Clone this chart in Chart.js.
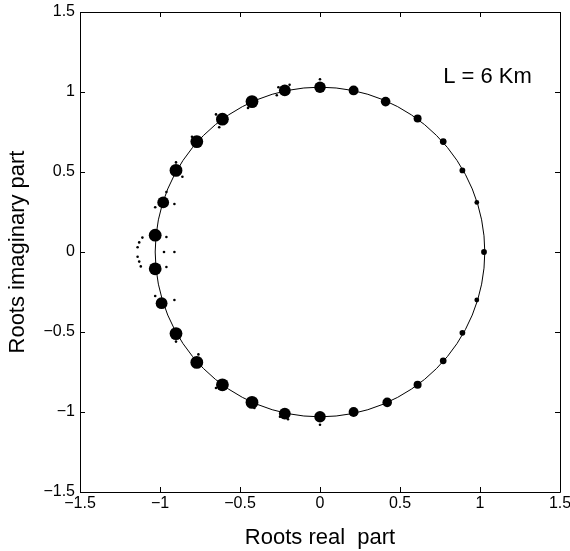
<!DOCTYPE html>
<html>
<head>
<meta charset="utf-8">
<script src="https://cdn.jsdelivr.net/npm/chart.js@4.4.0/dist/chart.umd.min.js"></script>
<style>
  html, body { margin: 0; padding: 0; background: #fff; }
  #wrap { width: 570px; height: 551px; }
</style>
</head>
<body>
<div id="wrap"><canvas id="rootsChart"></canvas></div>
<script>
// centres of the root clusters (real / imaginary part) and how wide each cloud is
const clusterRe = [1.025, 0.98, 0.89, 0.77, 0.61, 0.41, 0.21, 0.0, -0.22, -0.425, -0.61, -0.77, -0.9, -0.98, -1.03,
                   -1.03, -0.99, -0.9, -0.77, -0.61, -0.425, -0.22, 0.0, 0.21, 0.42, 0.61, 0.77, 0.89, 0.98];
const clusterIm = [0.0, 0.31, 0.51, 0.69, 0.835, 0.94, 1.01, 1.03, 1.01, 0.94, 0.83, 0.69, 0.51, 0.31, 0.105,
                   -0.105, -0.32, -0.51, -0.69, -0.83, -0.94, -1.01, -1.03, -1.0, -0.94, -0.83, -0.68, -0.505, -0.30];
const clusterSpread = [0.018, 0.015, 0.018, 0.021, 0.025, 0.03, 0.031, 0.036, 0.037, 0.04, 0.04, 0.04, 0.04, 0.037, 0.04,
                       0.04, 0.037, 0.04, 0.04, 0.04, 0.04, 0.037, 0.036, 0.031, 0.03, 0.025, 0.021, 0.018, 0.015];

// single roots lying outside the clouds
const strayRe = [-1.11, -1.13, -1.14, -1.14, -1.13, -1.12, -0.975, -0.91, -0.96, -0.96,
                 -0.91, -0.91, -1.03, -1.03, -0.96, -0.86, -0.9, -0.9, -0.8, -0.76,
                 -0.65, -0.65, -0.63, -0.45, -0.41, -0.27, -0.26, -0.25, -0.2, -0.19, 0.0, 0.0];
const strayIm = [0.09, 0.06, 0.03, -0.03, -0.06, -0.09, 0.0, 0.0, 0.094, -0.094,
                 0.3, -0.3, 0.28, -0.275, 0.375, 0.47, 0.56, -0.56, 0.72, -0.64,
                 0.86, -0.85, 0.78, 0.9, -0.975, 0.98, 1.03, -1.03, -1.045, 1.045, 1.08, -1.08];

const tickValues = [-1.5, -1, -0.5, 0, 0.5, 1, 1.5];
const circleRadius = 1.03;
const lengthLabel = 'L = 6 Km';

Chart.defaults.font.family = '"Liberation Sans", Arial, Helvetica, sans-serif';
Chart.defaults.color = '#000';

const fmt = v => String(v).replace('-', '\u2212');

const framePlugin = {
    id: 'frame',
    beforeDatasetsDraw(chart) {
        // reference circle through the roots
        const { ctx, scales: { x, y } } = chart;
        const cx = x.getPixelForValue(0);
        const cy = y.getPixelForValue(0);
        const rx = x.getPixelForValue(circleRadius) - cx;
        const ry = cy - y.getPixelForValue(circleRadius);
        ctx.save();
        ctx.beginPath();
        ctx.ellipse(cx, cy, rx, ry, 0, 0, Math.PI * 2);
        ctx.strokeStyle = '#000';
        ctx.lineWidth = 1;
        ctx.stroke();
        ctx.restore();
    },
    afterDraw(chart) {
        const { ctx, chartArea: a, scales: { x, y } } = chart;
        const L = 5;
        ctx.save();
        ctx.strokeStyle = '#000';
        ctx.lineWidth = 1;
        ctx.beginPath();
        ctx.rect(Math.round(a.left) + 0.5, Math.round(a.top) + 0.5,
                 Math.round(a.right - a.left), Math.round(a.bottom - a.top));
        tickValues.forEach(v => {
            const px = Math.round(x.getPixelForValue(v)) + 0.5;
            ctx.moveTo(px, a.bottom); ctx.lineTo(px, a.bottom - L);
            ctx.moveTo(px, a.top); ctx.lineTo(px, a.top + L);
            const py = Math.round(y.getPixelForValue(v)) + 0.5;
            ctx.moveTo(a.left, py); ctx.lineTo(a.left + L, py);
            ctx.moveTo(a.right, py); ctx.lineTo(a.right - L, py);
        });
        ctx.stroke();

        ctx.fillStyle = '#000';
        ctx.font = '22px "Liberation Sans", Arial, sans-serif';
        ctx.textAlign = 'left';
        ctx.textBaseline = 'alphabetic';
        ctx.fillText(lengthLabel, x.getPixelForValue(0.77), y.getPixelForValue(1.056));
        ctx.restore();
    }
};

function spreadToPx(c, spread) {
    const x = c.chart.scales.x;
    if (!x) return 4;
    return x.getPixelForValue(spread) - x.getPixelForValue(0);
}

const ctx = document.getElementById('rootsChart').getContext('2d');
new Chart(ctx, {
    type: 'scatter',
    data: {
        datasets: [
            {
                label: 'clusters',
                data: clusterRe.map((re, i) => ({ x: re, y: clusterIm[i] })),
                backgroundColor: '#000',
                borderWidth: 0,
                pointRadius: c => spreadToPx(c, clusterSpread[c.dataIndex])
            },
            {
                label: 'stray',
                data: strayRe.map((re, i) => ({ x: re, y: strayIm[i] })),
                backgroundColor: '#000',
                borderWidth: 0,
                pointRadius: 1.3
            }
        ]
    },
    options: {
        responsive: true,
        maintainAspectRatio: false,
        animation: false,
        events: [],
        layout: { padding: { top: 12, right: 10, left: 0, bottom: 0 } },
        plugins: {
            legend: { display: false },
            tooltip: { enabled: false }
        },
        scales: {
            x: {
                type: 'linear',
                min: -1.5,
                max: 1.5,
                afterBuildTicks: s => { s.ticks = tickValues.map(v => ({ value: v })); },
                afterFit: s => { s.height = 59; s.paddingLeft = 0; s.paddingRight = 0; },
                grid: { display: false, drawTicks: false },
                border: { display: false },
                ticks: { callback: fmt, font: { size: 16 }, padding: 2, maxRotation: 0, autoSkip: false },
                title: { display: true, text: 'Roots real  part', font: { size: 22 }, padding: { top: 0, bottom: 0 } }
            },
            y: {
                type: 'linear',
                min: -1.5,
                max: 1.5,
                afterBuildTicks: s => { s.ticks = tickValues.map(v => ({ value: v })); },
                afterFit: s => { s.width = 80; s.paddingTop = 0; s.paddingBottom = 0; },
                grid: { display: false, drawTicks: false },
                border: { display: false },
                ticks: { callback: fmt, font: { size: 16 }, padding: 5, autoSkip: false },
                title: { display: true, text: 'Roots imaginary part', font: { size: 22 }, padding: { top: 5, bottom: 0 } }
            }
        }
    },
    plugins: [framePlugin]
});
</script>
</body>
</html>
